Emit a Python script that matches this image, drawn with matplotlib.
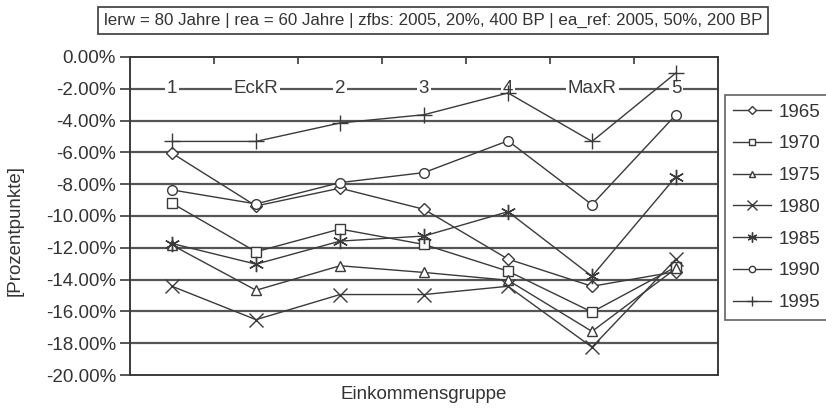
import matplotlib
matplotlib.use("Agg")
import matplotlib.pyplot as plt
from matplotlib.ticker import FuncFormatter, FixedLocator

plt.rcParams['font.family'] = ['Liberation Sans', 'DejaVu Sans']

categories = ["1", "EckR", "2", "3", "4", "MaxR", "5"]
years = ["1965", "1970", "1975", "1980", "1985", "1990", "1995"]
s1965 = [-6.05, -9.37, -8.25, -9.58, -12.71, -14.42, -13.5]
s1970 = [-9.20, -12.25, -10.82, -11.79, -13.47, -16.04, -13.2]
s1975 = [-11.83, -14.67, -13.13, -13.55, -14.04, -17.26, -13.3]
s1980 = [-14.42, -16.52, -14.94, -14.94, -14.42, -18.25, -12.7]
s1985 = [-11.73, -13.03, -11.58, -11.26, -9.73, -13.79, -7.52]
s1990 = [-8.36, -9.24, -7.90, -7.27, -5.27, -9.29, -3.63]
s1995 = [-5.31, -5.31, -4.15, -3.63, -2.26, -5.31, -1.00]
series = [s1965, s1970, s1975, s1980, s1985, s1990, s1995]
markers = ["D", "s", "^", "x", (6, 2, 0), "o", "+"]
msizes = [6, 7, 7, 10, 11, 7, 11]
yticks = [0, -2, -4, -6, -8, -10, -12, -14, -16, -18, -20]
title = "lerw = 80 Jahre | rea = 60 Jahre | zfbs: 2005, 20%, 400 BP | ea_ref: 2005, 50%, 200 BP"

W, H = 826, 409
fig = plt.figure(figsize=(W/100, H/100), dpi=100)
ax = fig.add_axes([130/W, 1-375/H, 588/W, 318/H])

lc = "#3a3a3a"
gc = "#555555"
fs = 13.5

x = list(range(len(categories)))
for yv in yticks[1:-1]:
    ax.axhline(yv, color=gc, lw=1.6, zorder=1)

for i, c in enumerate(categories):
    ax.text(i, -2, c, ha="center", va="center", fontsize=fs, color=lc,
            bbox=dict(facecolor="white", edgecolor="none", pad=1.5), zorder=2)

handles = []
for vals, m, ms, lab in zip(series, markers, msizes, years):
    open_m = m in ("D", "s", "^", "o")
    h, = ax.plot(x, vals, color=lc, lw=1.0, marker=m, ms=ms, mew=1.0,
                 mfc="white" if open_m else lc, mec=lc, zorder=3, label=lab)
    handles.append(h)

ax.set_xlim(-0.5, len(categories)-0.5)
ax.set_ylim(-20, 0)
ax.yaxis.set_major_locator(FixedLocator(yticks))
ax.yaxis.set_major_formatter(FuncFormatter(lambda v, p: f"{v:.2f}%"))
ax.tick_params(axis="y", direction="out", length=7, width=1.2, color=lc,
               labelsize=fs, labelcolor="#333333", pad=3)
ax.xaxis.set_major_locator(FixedLocator([i+0.5 for i in range(len(categories)-1)]))
ax.tick_params(axis="x", which="both", bottom=False, top=True, labelbottom=False,
               direction="in", length=5, width=1.2, color=lc)
for sp in ax.spines.values():
    sp.set_color(lc)
    sp.set_linewidth(1.4)

ax.set_xlabel("Einkommensgruppe", fontsize=fs, color="#333333", labelpad=8)
fig.text(15/W, 1-230/H, "[Prozentpunkte]", rotation=90, ha="center", va="center",
         fontsize=fs, color="#333333")

leg = fig.legend(handles=handles, loc="upper left",
                 bbox_to_anchor=(725/W, 1-95/H), fontsize=fs, frameon=True,
                 fancybox=False, edgecolor=lc, handlelength=2.0,
                 handletextpad=0.4, labelspacing=0.78, borderpad=0.45,
                 borderaxespad=0, markerscale=0.65)
leg.get_frame().set_linewidth(1.2)
for t in leg.get_texts():
    t.set_color("#333333")

t = fig.text(433/W, 1-20.5/H, title, ha="center", va="center", fontsize=11,
             color="#333333",
             bbox=dict(facecolor="white", edgecolor=lc, linewidth=1.2, pad=4))
fig.canvas.draw()
bb = t.get_window_extent()
t.set_fontsize(11 * 655 / bb.width)

fig.savefig("out.png", dpi=100)
